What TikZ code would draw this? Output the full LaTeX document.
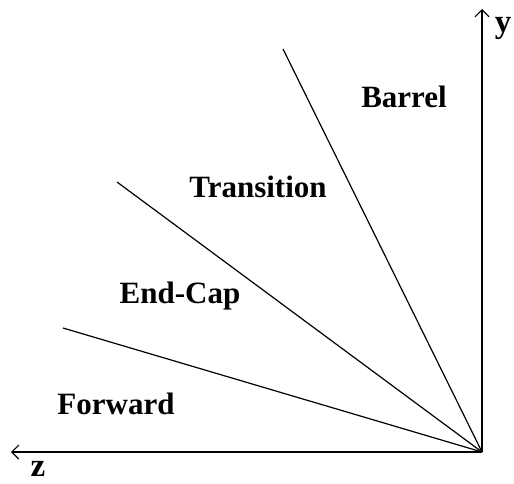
\documentclass[tikz,border=0pt]{standalone}
\usepackage{fontspec}
\setmainfont{Liberation Serif}
\usetikzlibrary{arrows.meta}
\begin{document}
\begin{tikzpicture}[x=1pt,y=-1pt,
  axis/.style={line width=1.3pt,-{Straight Barb[length=7pt,width=14pt,line width=1.1pt]}},
  ray/.style={line width=1.2pt},
  region/.style={font=\bfseries\fontsize{31}{31}\selectfont,inner sep=0pt},
  axlabel/.style={font=\bfseries\fontsize{33}{33}\selectfont,inner sep=0pt}]
\useasboundingbox (0,0) rectangle (514,483);
\coordinate (o) at (482,452);
\coordinate (ytip) at (482,9);
\coordinate (ztip) at (11,452);
\coordinate (b1) at (283,49);
\coordinate (b2) at (117,182);
\coordinate (b3) at (63,328);
\draw[axis] (o) -- (ytip);
\draw[axis] (o) -- (ztip);
\draw[ray] (o) -- (b1);
\draw[ray] (o) -- (b2);
\draw[ray] (o) -- (b3);
\node[axlabel,anchor=base] (ylab) at (503,32) {y};
\node[axlabel,anchor=base] (zlab) at (38,476) {z};
\node[region] (barrel) at (404,97) {Barrel};
\node[region] (trans) at (258,187) {Transition};
\node[region] (endcap) at (180,296) {End-Cap};
\node[region] (fwd) at (116,404) {Forward};
\end{tikzpicture}
\end{document}
